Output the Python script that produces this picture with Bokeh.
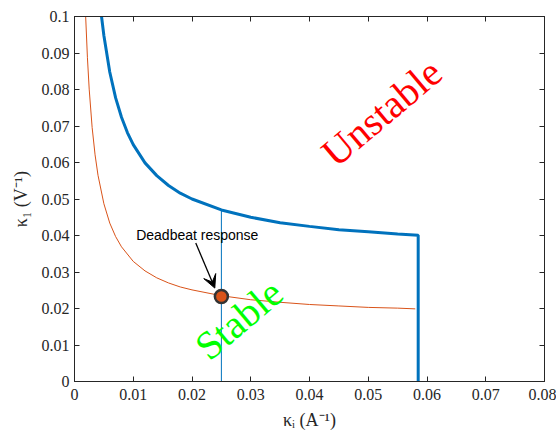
from bokeh.plotting import figure
from bokeh.models import Range1d, FixedTicker, LinearAxis, Arrow, VeeHead, CustomJSTickFormatter
from bokeh.core.properties import value
from bokeh.embed import file_html
from bokeh.resources import INLINE

# ---- data ----
blue_k_i = [0.0046, 0.005, 0.006, 0.007, 0.008, 0.009, 0.010, 0.012, 0.014, 0.016,
            0.018, 0.020, 0.025, 0.030, 0.035, 0.040, 0.045, 0.050, 0.055, 0.0585, 0.0585]
blue_k_1 = [0.1000, 0.0948, 0.0848, 0.0777, 0.0724, 0.0682, 0.0649, 0.0599, 0.0564, 0.0537,
            0.0516, 0.0500, 0.0470, 0.0450, 0.0435, 0.0425, 0.0416, 0.0410, 0.0404, 0.0401, 0.0]

orange_k_i = [0.0019, 0.0022, 0.0025, 0.003, 0.0035, 0.004, 0.005, 0.006, 0.007, 0.008,
              0.010, 0.012, 0.014, 0.016, 0.018, 0.020, 0.025, 0.030, 0.035, 0.040,
              0.045, 0.050, 0.055, 0.058]
orange_k_1 = [0.1000, 0.0887, 0.0801, 0.0696, 0.0621, 0.0565, 0.0487, 0.0434, 0.0397, 0.0369,
              0.0329, 0.0303, 0.0284, 0.0270, 0.0259, 0.0251, 0.0235, 0.0224, 0.0217, 0.0211,
              0.0207, 0.0203, 0.0201, 0.0199]

deadbeat_k_i = [0.025]
deadbeat_k_1 = [0.0233]
deadbeat_limit_k_1 = [0.0470]   # blue curve value at the deadbeat k_i

x_ticks = [0, 0.01, 0.02, 0.03, 0.04, 0.05, 0.06, 0.07, 0.08]
x_tick_labels = ["0", "0.01", "0.02", "0.03", "0.04", "0.05", "0.06", "0.07", "0.08"]
y_ticks = [0, 0.01, 0.02, 0.03, 0.04, 0.05, 0.06, 0.07, 0.08, 0.09, 0.1]
y_tick_labels = ["0", "0.01", "0.02", "0.03", "0.04", "0.05", "0.06", "0.07", "0.08", "0.09", "0.1"]

x_title = "κᵢ (A⁻¹)"
y_title = "κ₁ (V⁻¹)"

# annotation anchors (data units)
deadbeat_label_pos = (0.0209, 0.0401)
arrow_tail = (0.02064, 0.03794)
arrow_tip = (0.02388, 0.02560)
unstable_pos = (0.0523, 0.0737)
stable_pos = (0.02800, 0.0170)
region_angle = 0.70  # radians

BLUE = "#0072BD"
ORANGE = "#D95319"
AX = "#262626"
SERIF = "Liberation Serif"

p = figure(width=556, height=432, output_backend="svg", toolbar_location=None,
           x_range=Range1d(0, 0.08), y_range=Range1d(0, 0.1),
           min_border_left=74, min_border_right=12, min_border_top=16, min_border_bottom=47,
           x_axis_label=x_title, y_axis_label=y_title)
p.background_fill_color = "white"
p.border_fill_color = "white"
p.outline_line_color = AX
p.xgrid.visible = False
p.ygrid.visible = False

FMT_CODE = """
let best = 0, bd = Infinity;
for (let i = 0; i < tvals.length; i++) {
  const d = Math.abs(tvals[i] - tick);
  if (d < bd) { bd = d; best = i; }
}
return tlabels[best];
"""

def style_axis(ax, ticks, labels, show_labels=True):
    ax.ticker = FixedTicker(ticks=ticks)
    if show_labels:
        ax.formatter = CustomJSTickFormatter(args=dict(tvals=ticks, tlabels=labels), code=FMT_CODE)
    else:
        ax.formatter = CustomJSTickFormatter(code='return ""')
        ax.major_label_standoff = 0
    ax.major_tick_in = 5
    ax.major_tick_out = 0
    ax.minor_tick_line_color = None
    ax.axis_line_color = AX
    ax.major_tick_line_color = AX
    ax.major_label_text_color = AX
    ax.major_label_text_font = SERIF
    ax.major_label_text_font_size = "16px"
    ax.axis_label_text_font = SERIF
    ax.axis_label_text_font_size = "18px"
    ax.axis_label_text_font_style = "normal"
    ax.axis_label_text_color = AX

style_axis(p.xaxis[0], x_ticks, x_tick_labels)
style_axis(p.yaxis[0], y_ticks, y_tick_labels)
p.xaxis[0].major_label_standoff = 7
p.xaxis[0].axis_label_standoff = 7
p.yaxis[0].major_label_standoff = 5
p.yaxis[0].axis_label_standoff = 8

top = LinearAxis()
style_axis(top, x_ticks, x_tick_labels, show_labels=False)
p.add_layout(top, "above")
right = LinearAxis()
style_axis(right, y_ticks, y_tick_labels, show_labels=False)
p.add_layout(right, "right")

# curves
p.line(orange_k_i, orange_k_1, line_color=ORANGE, line_width=1)
p.segment(x0=deadbeat_k_i, y0=[0], x1=deadbeat_k_i, y1=deadbeat_limit_k_1,
          line_color=BLUE, line_width=1)
p.line(blue_k_i, blue_k_1, line_color=BLUE, line_width=3)

# deadbeat marker
p.scatter(deadbeat_k_i, deadbeat_k_1, size=13, fill_color=ORANGE,
          line_color="#333333", line_width=2.5)

# arrow + label
p.add_layout(Arrow(end=VeeHead(size=13, fill_color="black", line_color="black"),
                   x_start=arrow_tail[0], y_start=arrow_tail[1],
                   x_end=arrow_tip[0], y_end=arrow_tip[1],
                   line_color="black", line_width=1.3))
p.text(x=[deadbeat_label_pos[0]], y=[deadbeat_label_pos[1]], text=["Deadbeat response"],
       text_font=value("Liberation Sans"), text_font_size="14px", text_color="black",
       text_align="center", text_baseline="middle")

# region labels
p.text(x=[unstable_pos[0]], y=[unstable_pos[1]], text=["Unstable"], angle=region_angle,
       text_font=value(SERIF), text_font_size="40px", text_color="#FF0000",
       text_align="center", text_baseline="middle")
p.text(x=[stable_pos[0]], y=[stable_pos[1]], text=["Stable"], angle=region_angle,
       text_font=value(SERIF), text_font_size="40px", text_color="#00FF00",
       text_align="center", text_baseline="middle")

open("out.html", "w").write(file_html(p, INLINE))
